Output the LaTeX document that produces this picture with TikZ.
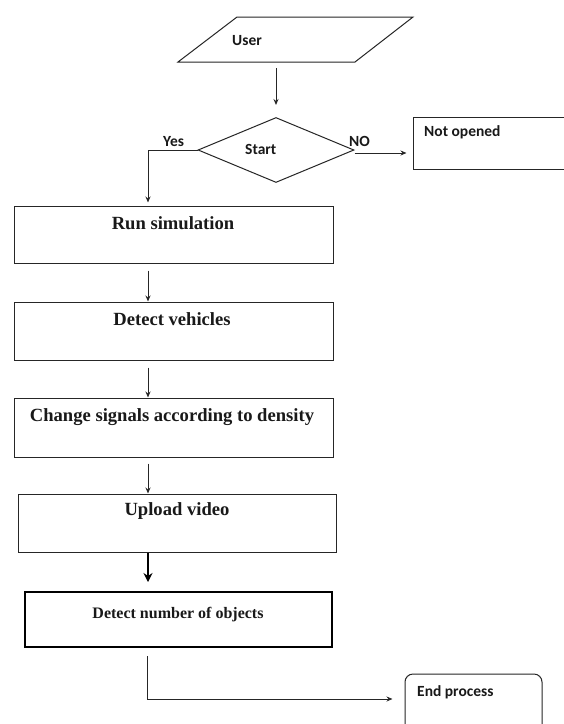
\documentclass[tikz,border=0pt]{standalone}
\usepackage{fontspec}
\setmainfont{Liberation Serif}
\newfontfamily\calib{Carlito}
\usetikzlibrary{shapes.geometric,arrows.meta}
\begin{document}
\begin{tikzpicture}[x=1pt,y=-1pt,
 line/.style={draw=black!85, line width=1pt},
 arr/.style={line, -{Stealth[length=6pt,width=5pt]}},
 tarr/.style={draw=black, line width=2pt, -{Stealth[length=9pt,width=9pt]}},
 box/.style={draw=black!85, line width=1pt, rectangle, inner sep=0pt},
 boxtxt/.style={font=\fontsize{18.6}{20}\selectfont\bfseries, text=black!90, inner sep=0pt, anchor=base},
 smalltxt/.style={font=\fontsize{16}{18}\selectfont\bfseries, text=black!90, inner sep=0pt, anchor=base},
 sanstxt/.style={font=\calib\bfseries\fontsize{15.5}{18}\selectfont, inner sep=0pt, anchor=base west, text=black!90},
]
\clip (0,0) rectangle (564,724);
\fill[white] (0,0) rectangle (564,724);

% user parallelogram
\draw[line] (237,17) -- (413,17) -- (355,62) -- (178,62) -- cycle;
\coordinate (userbot) at (276,62);
\node[sanstxt] (usertxt) at (232,45) {User};

% decision
\node[diamond, line, aspect=2.4, minimum width=156pt, minimum height=65pt, inner sep=0pt] (start) at (276,150) {};
\node[sanstxt] (starttxt) at (245,154) {Start};
\node[sanstxt] (yes) at (163,146) {Yes};
\node[sanstxt] (no) at (349,146) {NO};

% boxes
\node[box, minimum width=153pt, minimum height=52pt] (notop) at (489.5,143) {};
\node[sanstxt] (notoptxt) at (424,136) {Not opened};

\node[box, minimum width=319pt, minimum height=57pt] (run) at (173.5,234.5) {};
\node[boxtxt] (runtxt) at (173,229) {Run simulation};

\node[box, minimum width=319pt, minimum height=58pt] (det) at (173.5,331) {};
\node[boxtxt] (dettxt) at (172,325) {Detect vehicles};

\node[box, minimum width=319pt, minimum height=59pt] (chg) at (173.5,427.5) {};
\node[boxtxt] (chgtxt) at (172,421) {Change signals according to density};

\node[box, minimum width=318pt, minimum height=58pt] (upl) at (177,523) {};
\node[boxtxt] (upltxt) at (177,515) {Upload video};

\node[box, draw=black, line width=2pt, minimum width=307pt, minimum height=55pt] (obj) at (178.5,619.5) {};
\node[smalltxt] (objtxt) at (178,618) {Detect number of objects};

\node[box, rounded corners=8pt, minimum width=137pt, minimum height=60pt] (endp) at (473.5,704) {};
\node[sanstxt] (endtxt) at (417,696) {End process};

% connectors
\coordinate (ax) at (148,0);
\draw[arr, shorten >=12pt] (start.north |- userbot) ++(0,6) -- (start.north);
\draw[arr, shorten >=3pt] (start.west) -- (start.west -| ax) -- (run.north -| ax);
\draw[arr, shorten >=6pt] ([yshift=-3pt]start.east) -- ([yshift=-3pt]start.east -| notop.west);
\draw[arr] (run.south -| ax) ++(0,7) -- (det.north -| ax);
\draw[arr] (det.south -| ax) ++(0,7) -- (chg.north -| ax);
\draw[arr] (chg.south -| ax) ++(0,6) -- (upl.north -| ax);
\draw[tarr, shorten >=9pt] (upl.south -| ax) -- (obj.north -| ax);
\coordinate (bend) at (147,699);
\draw[arr, shorten >=12pt] (obj.south -| bend) ++(0,8) -- (bend) -- (bend -| endp.west);
\end{tikzpicture}
\end{document}
